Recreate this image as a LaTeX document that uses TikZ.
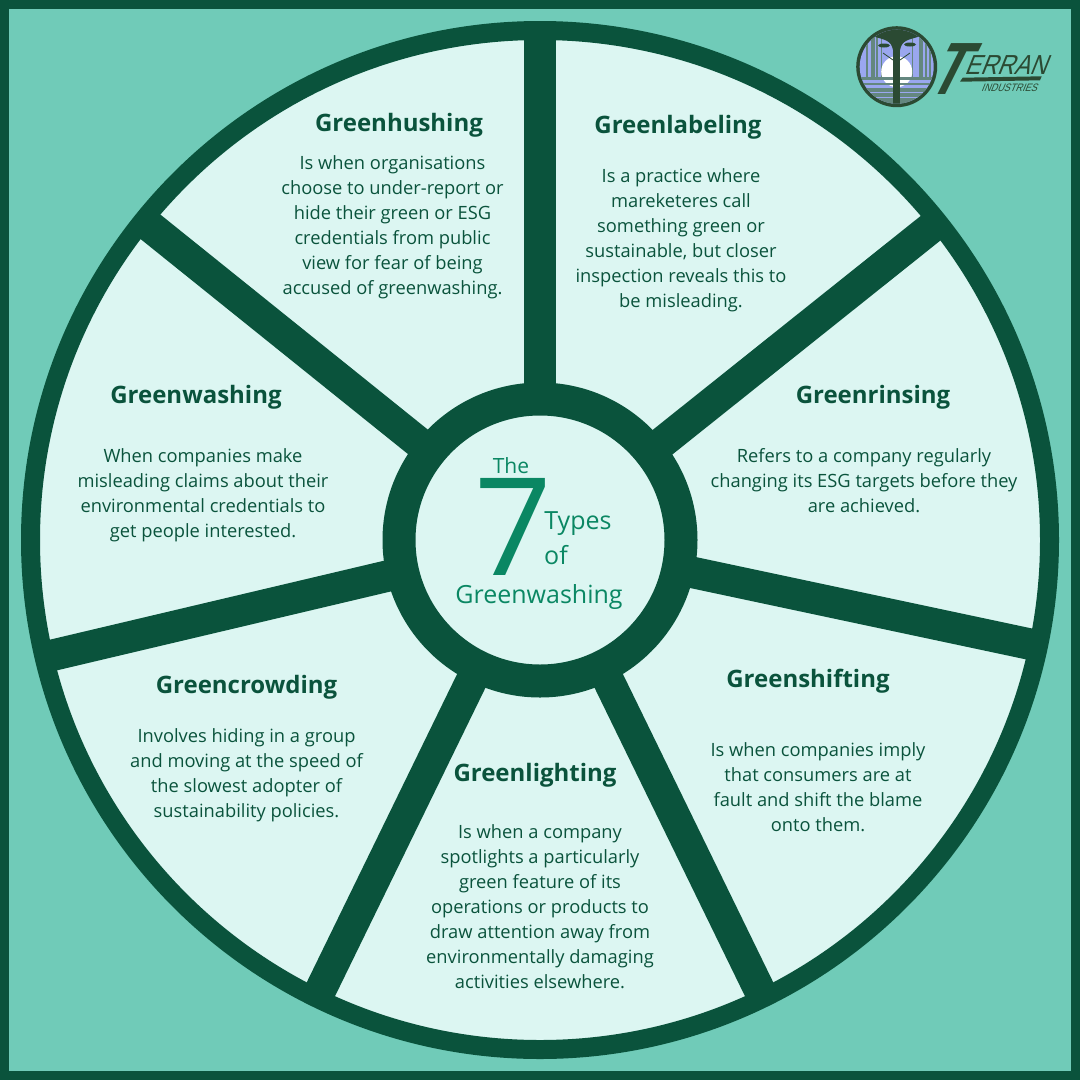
\documentclass[tikz,border=0pt]{standalone}
\usepackage{xcolor}
\usepackage{fontspec}
\setmainfont{Open Sans}
\newfontfamily\logofont[FakeSlant=0.4,FakeStretch=0.85]{Liberation Sans}
\newfontfamily\logotfont[FakeSlant=0.5,FakeStretch=0.72]{Liberation Sans}
\usetikzlibrary{calc}
\definecolor{darkgreen}{HTML}{0A533C}
\definecolor{midgreen}{HTML}{0A8763}
\definecolor{seagreen}{HTML}{70CBB8}
\definecolor{palegreen}{HTML}{DCF6F2}
\definecolor{logodark}{HTML}{2B4A33}
\definecolor{logosky}{HTML}{9AA7EF}
\definecolor{logotree}{HTML}{64877F}
\tikzstyle{heading} = [
    text=darkgreen,
    font=\fontsize{24}{28}\selectfont\bfseries
]
\tikzstyle{blurb} = [
    text=darkgreen,
    align=center,
    font=\fontsize{18.3}{25}\selectfont
]
\tikzstyle{centretext} = [
    text=midgreen,
    inner sep=0pt,
    font=\fontsize{25}{28}\selectfont
]
\tikzstyle{spoke} = [
    darkgreen,
    line width=31.5pt
]
\tikzstyle{logotext} = [
    text=logodark,
    inner sep=0pt,
    anchor=base west
]

\begin{document}
\begin{tikzpicture}[x=1pt, y=-1pt]
        % Background
        \fill[darkgreen] (0, 0) rectangle (1080, 1080);
        \fill[seagreen] (9, 9) rectangle (1071, 1071);
        \useasboundingbox (0, 0) rectangle (1080, 1080);

        % Wheel
        \node[circle, minimum size=1019pt, inner sep=0pt, draw=darkgreen, line width=19pt, fill=palegreen] (wheel) at (540, 540) {};
        \foreach \i/\a in {0/-90, 1/-38.6, 2/12, 3/64, 4/116, 5/166.7, 6/218.8} {
            \coordinate (rim\i) at ($(wheel.center) + (\a:505)$);
            \draw[spoke] (wheel.center) -- (rim\i);
        }
        \node[circle, minimum size=282pt, inner sep=0pt, draw=darkgreen, line width=33pt, fill=palegreen] (hub) at (540, 540) {};

        % Centre
        \node[centretext, font=\fontsize{21}{24}\selectfont] (the) at (511, 466) {The};
        \node[centretext, font=\fontsize{136}{140}\selectfont] (seven) at (513, 527) {7};
        \node[centretext] (types) at (578, 524) {Types};
        \node[centretext] (of) at (556, 555) {of};
        \node[centretext] (greenwashing) at (539, 597) {Greenwashing};

        % Segments
        \node[heading] (hushing) at (399, 125) {Greenhushing};
        \node[blurb] (hushingtext) at (392.5, 227) {Is when organisations\\choose to under-report or\\hide their green or ESG\\credentials from public\\view for fear of being\\accused of greenwashing.};
        \node[heading] (labeling) at (678, 127) {Greenlabeling};
        \node[blurb] (labelingtext) at (681, 240) {Is a practice where\\mareketeres call\\something green or\\sustainable, but closer\\inspection reveals this to\\be misleading.};
        \node[heading] (rinsing) at (873, 397) {Greenrinsing};
        \node[blurb] (rinsingtext) at (864, 481) {Refers to a company regularly\\changing its ESG targets before they\\are achieved.};
        \node[heading] (shifting) at (808, 681) {Greenshifting};
        \node[blurb] (shiftingtext) at (818, 787) {Is when companies imply\\that consumers are at\\fault and shift the blame\\onto them.};
        \node[heading] (lighting) at (535, 775) {Greenlighting};
        \node[blurb] (lightingtext) at (540, 907) {Is when a company\\spotlights a particularly\\green feature of its\\operations or products to\\draw attention away from\\environmentally damaging\\activities elsewhere.};
        \node[heading] (crowding) at (246.5, 687) {Greencrowding};
        \node[blurb] (crowdingtext) at (246.5, 775) {Involves hiding in a group\\and moving at the speed of\\the slowest adopter of\\sustainability policies.};
        \node[heading] (washing) at (196, 397) {Greenwashing};
        \node[blurb] (washingtext) at (203, 495) {When companies make\\misleading claims about their\\environmental credentials to\\get people interested.};

        % Logo
        \fill[logodark] (896.7, 66.7) circle (40.5);
        \begin{scope}
            \clip (896.7, 66.7) circle (37);
            \fill[logosky] (855, 24) rectangle (939, 108);
            \foreach \tx/\tw in {866/1.5, 871/3.5, 876/1.5, 881/1, 912/1, 919/3.5, 925/1.5, 929/1.5} {
                \fill[logotree] (\tx, 24) rectangle ++(\tw, 56);
            }
            \fill[white] (896.7, 71.7) circle (15.5);
            \foreach \ty/\th in {77/2.5, 82.5/2.5, 88/3.5} {
                \fill[logotree] (855, \ty) rectangle (939, \ty + \th);
            }
            \fill[logotree] (855, 93) rectangle (939, 108);
            \fill[logosky] (855, 96.5) rectangle (939, 97.5);
            \fill[logodark] (855, 24) rectangle (939, 36);
            \fill[logodark] (872, 36) .. controls (885, 40) and (891, 40) .. (893, 50) -- (900, 50) .. controls (902, 40) and (908, 40) .. (921, 36) -- cycle;
            \fill[logodark] (884, 45.5) ellipse (6 and 2);
            \fill[logodark] (910, 44.5) ellipse (6 and 2);
            \draw[logodark, line width=0.8pt] (883, 53) -- (893, 60);
            \draw[logodark, line width=0.8pt] (910, 53) -- (900, 60);
            \fill[logodark] (893, 40) rectangle (900, 108);
        \end{scope}
        \node[logotext, font=\logotfont\bfseries\fontsize{74}{74}\selectfont] (logot) at (925, 94) {T};
        \node[logotext, font=\logofont\fontsize{27.5}{28}\selectfont] (logoerran) at (964, 74.5) {ERRAN};
        \fill[logodark] (962.7, 77.7) -- (1041.7, 76.3) -- (1040, 80.3) -- (960, 81.7) -- cycle;
        \node[logotext, font=\logofont\fontsize{10.8}{12}\selectfont] (logoind) at (981, 91) {INDUSTRIES};
    \end{tikzpicture}
\end{document}
